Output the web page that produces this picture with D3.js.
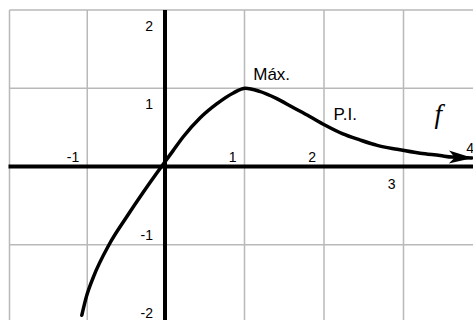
<!DOCTYPE html>
<html>
<head>
<meta charset="utf-8">
<script src="https://cdn.jsdelivr.net/npm/d3@7"></script>
<style>
  html, body { margin: 0; padding: 0; background: #fff; }
  svg { display: block; }
  text { font-family: "Liberation Sans", Arial, sans-serif; fill: #000; }
</style>
</head>
<body>
<svg id="chart" width="473" height="320"></svg>
<script>
// Grid positions (unit steps) for the background lattice
const gridX = [-2, -1, 1, 2, 3];
const gridY = [2, 1, -1];

// Axis tick labels with their values
const xTickValues = [-1, 1, 2, 3, 4];
const xTickLabels = ["-1", "1", "2", "3", "4"];
const yTickValues = [2, 1, -1, -2];
const yTickLabels = ["2", "1", "-1", "-2"];

// Sampled points of the function f
const curveX = [-1.07, -1.01, -0.92, -0.72, -0.49, -0.28, -0.11, 0.0, 0.1, 0.23, 0.44, 0.65, 0.86, 1.01, 1.19, 1.40, 1.60, 1.82, 2.01, 2.23, 2.45, 2.67, 2.92, 3.21, 3.46, 3.61, 3.86];
const curveY = [-1.90, -1.66, -1.41, -1.00, -0.64, -0.33, -0.09, 0.06, 0.20, 0.38, 0.62, 0.80, 0.94, 1.00, 0.96, 0.87, 0.76, 0.64, 0.53, 0.42, 0.34, 0.27, 0.22, 0.17, 0.14, 0.12, 0.11];

// Annotations on the curve
const notes = [
  { text: "Máx.", x: 1.11, y: 1.11 },
  { text: "P.I.", x: 2.12, y: 0.59 }
];
const fnName = "f";

const W = 473, H = 320;
const svg = d3.select("#chart");

const x = d3.scaleLinear().domain([-2, 0, 4]).range([9.5, 165, 483]);
const y = d3.scaleLinear().domain([-2, 2]).range([323, 10]);

// grid
const grid = svg.append("g").attr("stroke", "#b9b9b9").attr("stroke-width", 1.5);
grid.selectAll("line.v").data(gridX).join("line").attr("class", "v")
  .attr("x1", d => x(d)).attr("x2", d => x(d))
  .attr("y1", y(2)).attr("y2", H);
grid.selectAll("line.h").data(gridY).join("line").attr("class", "h")
  .attr("x1", x(-2)).attr("x2", W)
  .attr("y1", d => y(d)).attr("y2", d => y(d));

// axes
const axes = svg.append("g").attr("stroke", "#000").attr("stroke-width", 4);
axes.append("line").attr("x1", x(-2) - 1).attr("x2", W).attr("y1", y(0)).attr("y2", y(0));
axes.append("line").attr("x1", x(0)).attr("x2", x(0)).attr("y1", y(2)).attr("y2", H);

// tick labels
const xOff = { "-1": [-8, -5], "1": [-8, -5], "2": [-8, -5], "3": [-8, 22], "4": [-9, -14] };
svg.append("g").selectAll("text").data(xTickValues).join("text")
  .attr("x", d => x(d) + xOff[d][0])
  .attr("y", d => y(0) + xOff[d][1])
  .attr("text-anchor", "end")
  .attr("font-size", 14)
  .text((d, i) => xTickLabels[i]);

svg.append("g").selectAll("text").data(yTickValues).join("text")
  .attr("x", x(0) - 12)
  .attr("y", d => d > 0 ? y(d) + 21 : y(d) - 5)
  .attr("text-anchor", "end")
  .attr("font-size", 14)
  .text((d, i) => yTickLabels[i]);

// arrowhead for the curve
svg.append("defs").append("marker")
  .attr("id", "arrow")
  .attr("viewBox", "-24 -8 26 16")
  .attr("refX", 0).attr("refY", 0)
  .attr("markerWidth", 26).attr("markerHeight", 16)
  .attr("markerUnits", "userSpaceOnUse")
  .attr("orient", "auto")
  .append("path")
  .attr("d", "M1,0 L-23,-7 L-17,0 L-23,6 Z")
  .attr("fill", "#000");

// curve
const pts = curveX.map((v, i) => [v, curveY[i]]);
svg.append("path")
  .datum(pts)
  .attr("fill", "none")
  .attr("stroke", "#000")
  .attr("stroke-width", 3.5)
  .attr("stroke-linecap", "round")
  .attr("stroke-linejoin", "round")
  .attr("marker-end", "url(#arrow)")
  .attr("d", d3.line().x(d => x(d[0])).y(d => y(d[1])).curve(d3.curveMonotoneX));

// annotations
svg.append("g").selectAll("text").data(notes).join("text")
  .attr("x", d => x(d.x)).attr("y", d => y(d.y))
  .attr("font-size", 17)
  .text(d => d.text);

svg.append("text")
  .attr("x", x(3.39)).attr("y", y(0.56))
  .style("font-family", "'Liberation Serif', 'Times New Roman', serif")
  .attr("font-style", "italic")
  .attr("font-size", 27)
  .text(fnName);
</script>
</body>
</html>
